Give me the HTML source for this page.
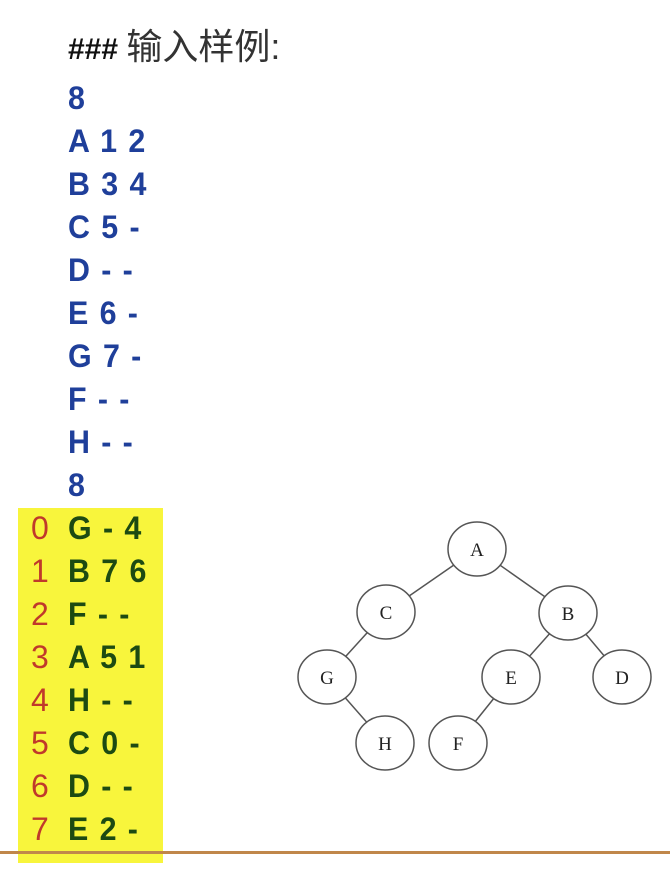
<!DOCTYPE html>
<html><head><meta charset="utf-8"><style>
html,body{margin:0;padding:0;background:#fff;width:670px;height:890px;overflow:hidden;position:relative}
.l{position:absolute;left:68px;font:bold 32px "Liberation Sans",sans-serif;color:#1f3f9a;line-height:34px;white-space:pre;word-spacing:3px;transform:scaleX(0.95);transform-origin:0 0}
.t{color:#111;font-family:"Liberation Sans","Noto Sans CJK SC",sans-serif;font-size:30px;transform:none;word-spacing:0}
.t b{font-weight:normal;color:#333;font-size:36px}
.g{color:#1d4a12}
.i{position:absolute;left:31px;font:32px "Liberation Sans",sans-serif;color:#c0392b;line-height:34px}
</style></head><body>
<div style="position:absolute;left:18px;top:508px;width:145px;height:355px;background:#f8f53c"></div>
<div style="position:absolute;left:0;top:851px;width:670px;height:3px;background:#c0874a"></div>
<div class="l t" style="top:30px">### <b>输入样例:</b></div>
<div class="l" style="top:81px">8</div>
<div class="l" style="top:124px">A 1 2</div>
<div class="l" style="top:167px">B 3 4</div>
<div class="l" style="top:210px">C 5 -</div>
<div class="l" style="top:253px">D - -</div>
<div class="l" style="top:296px">E 6 -</div>
<div class="l" style="top:339px">G 7 -</div>
<div class="l" style="top:382px">F - -</div>
<div class="l" style="top:425px">H - -</div>
<div class="l" style="top:468px">8</div>
<div class="i" style="top:511px">0</div><div class="l g" style="top:511px">G - 4</div>
<div class="i" style="top:554px">1</div><div class="l g" style="top:554px">B 7 6</div>
<div class="i" style="top:597px">2</div><div class="l g" style="top:597px">F - -</div>
<div class="i" style="top:640px">3</div><div class="l g" style="top:640px">A 5 1</div>
<div class="i" style="top:683px">4</div><div class="l g" style="top:683px">H - -</div>
<div class="i" style="top:726px">5</div><div class="l g" style="top:726px">C 0 -</div>
<div class="i" style="top:769px">6</div><div class="l g" style="top:769px">D - -</div>
<div class="i" style="top:812px">7</div><div class="l g" style="top:812px">E 2 -</div>
<svg width="670" height="890" style="position:absolute;left:0;top:0">
<g stroke="#555" stroke-width="1.5" fill="none">
<line x1="477" y1="549" x2="386" y2="612"/><line x1="477" y1="549" x2="568" y2="613"/>
<line x1="386" y1="612" x2="327" y2="677"/><line x1="327" y1="677" x2="385" y2="743"/>
<line x1="568" y1="613" x2="511" y2="677"/><line x1="568" y1="613" x2="622" y2="677"/>
<line x1="511" y1="677" x2="458" y2="743"/>
</g>
<g stroke="#555" stroke-width="1.5" fill="#fff" font-family="Liberation Serif,serif" font-size="19" text-anchor="middle">
<g><ellipse cx="477" cy="549" rx="29" ry="27"/><text x="477" y="556" stroke="none" fill="#222">A</text></g>
<g><ellipse cx="386" cy="612" rx="29" ry="27"/><text x="386" y="619" stroke="none" fill="#222">C</text></g>
<g><ellipse cx="568" cy="613" rx="29" ry="27"/><text x="568" y="620" stroke="none" fill="#222">B</text></g>
<g><ellipse cx="327" cy="677" rx="29" ry="27"/><text x="327" y="684" stroke="none" fill="#222">G</text></g>
<g><ellipse cx="511" cy="677" rx="29" ry="27"/><text x="511" y="684" stroke="none" fill="#222">E</text></g>
<g><ellipse cx="622" cy="677" rx="29" ry="27"/><text x="622" y="684" stroke="none" fill="#222">D</text></g>
<g><ellipse cx="385" cy="743" rx="29" ry="27"/><text x="385" y="750" stroke="none" fill="#222">H</text></g>
<g><ellipse cx="458" cy="743" rx="29" ry="27"/><text x="458" y="750" stroke="none" fill="#222">F</text></g>
</g>
</svg>
</body></html>
